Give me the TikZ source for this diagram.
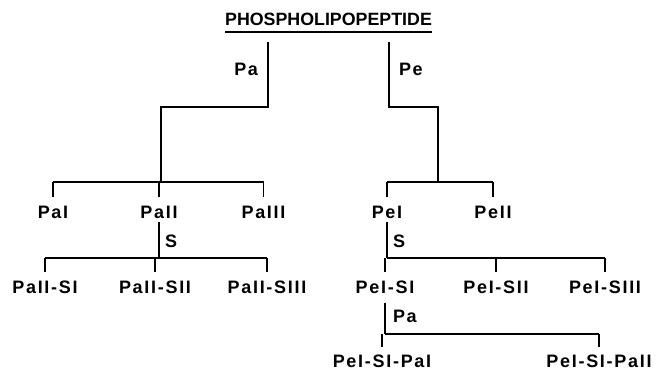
\documentclass[tikz,border=0pt]{standalone}
\usepackage{fontspec}
\newfontfamily\rootfont{Liberation Sans}
\newfontfamily\fracfont[LetterSpace=9.5]{Liberation Sans}
\tikzset{
  branch/.style={black, line width=1.7pt},
  fraction/.style={font=\fontsize{18}{21}\selectfont\fracfont\bfseries, anchor=base, inner sep=0pt, outer sep=0pt},
  enzyme/.style={fraction, anchor=base west},
}

\begin{document}
\begin{tikzpicture}[x=1pt, y=-1pt]
\useasboundingbox (0,0) rectangle (656,372);

\node[fraction, font=\fontsize{17.8}{21}\selectfont\rootfont\bfseries] (php) at (328.5,25.5) {PHOSPHOLIPOPEPTIDE};
\draw[branch] ([yshift=-6.5pt]php.base west) -- ([yshift=-6.5pt]php.base east);

% Pa / Pe cleavage
\coordinate (pa-top) at (268,42);
\coordinate (pe-top) at (389,42);
\coordinate (pa-join) at (161,182);
\coordinate (pe-join) at (438,182);
\draw[branch] (pa-top) -- ++(0,65) -| (pa-join);
\draw[branch] (pe-top) -- ++(0,65) -| (pe-join);
\node[enzyme, anchor=base east] (pa-lab) at (258,75) {Pa};
\node[enzyme] (pe-lab) at (399,75) {Pe};

\node[fraction] (pai) at (53,218.5) {PaI};
\node[fraction] (paii) at (159,218.5) {PaII};
\node[fraction] (paiii) at (263.5,218.5) {PaIII};
\node[fraction] (pei) at (387,218.5) {PeI};
\node[fraction] (peii) at (493,218.5) {PeII};
\draw[branch] (pai.north |- pa-join) -- (paiii.north |- pa-join);
\draw[branch] (pei.north |- pe-join) -- (peii.north |- pe-join);
\foreach \n/\j in {pai/pa-join, paii/pa-join, paiii/pa-join, pei/pe-join, peii/pe-join} {
 \draw[branch, shorten >=9pt] (\n.north |- \j) -- (\n.north);
}

% S cleavage
\coordinate (paii-s) at (159,258);
\coordinate (pei-s) at (387,258);
\draw[branch, shorten <=3pt] (paii.south) -- (paii-s);
\draw[branch, shorten <=3pt] (pei.south) -- (pei-s);
\node[enzyme] (s-paii) at (165,247) {S};
\node[enzyme] (s-pei) at (393,247) {S};

\node[fraction] (paiisi) at (45,293) {PaII-SI};
\node[fraction] (paiisii) at (155,293) {PaII-SII};
\node[fraction] (paiisiii) at (267,293) {PaII-SIII};
\node[fraction] (peisi) at (385,293) {PeI-SI};
\node[fraction] (peisii) at (496,293) {PeI-SII};
\node[fraction] (peisiii) at (605,293) {PeI-SIII};
\draw[branch] (paiisi.north |- paii-s) -- (paiisiii.north |- paii-s);
\draw[branch] (pei-s) -- (peisiii.north |- pei-s);
\foreach \n/\j in {paiisi/paii-s, paiisii/paii-s, paiisiii/paii-s, peisi/pei-s, peisii/pei-s, peisiii/pei-s} {
 \draw[branch, shorten >=8pt] (\n.north |- \j) -- (\n.north);
}

% Pa on PeI-SI
\coordinate (peisi-pa) at (385,334);
\draw[branch, shorten <=10pt] (peisi.south) -- (peisi-pa);
\node[enzyme] (pa-peisi) at (393,322) {Pa};
\node[fraction] (peisipai) at (382,367) {PeI-SI-PaI};
\node[fraction] (peisipaii) at (599,367) {PeI-SI-PaII};
\draw[branch] (peisi-pa) -- (peisipaii.north |- peisi-pa);
\foreach \n in {peisipai, peisipaii} {
 \draw[branch, shorten >=7pt] (\n.north |- peisi-pa) -- (\n.north);
}
\end{tikzpicture}
\end{document}
